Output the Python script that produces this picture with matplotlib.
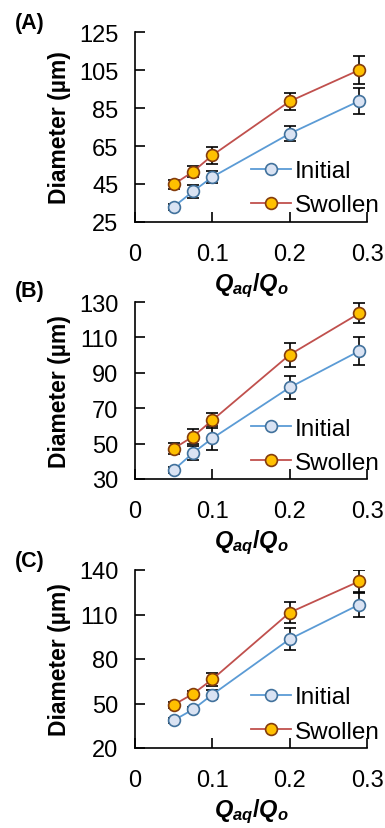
import numpy as np
import matplotlib.pyplot as plt

plt.rcParams['font.family'] = ['Liberation Sans', 'DejaVu Sans']
plt.rcParams['mathtext.fontset'] = 'custom'
plt.rcParams['mathtext.it'] = 'Liberation Sans:bold:italic'
plt.rcParams['mathtext.rm'] = 'Liberation Sans:bold'
plt.rcParams['mathtext.bf'] = 'Liberation Sans:bold'

ratio = [0.05, 0.075, 0.1, 0.2, 0.29]

init_a = [33.0, 41.1, 48.7, 71.5, 88.7]
init_a_err = [1.5, 3.3, 3.0, 3.8, 7.0]
swol_a = [44.8, 51.5, 60.1, 88.5, 105.0]
swol_a_err = [2.2, 3.0, 4.4, 4.3, 7.2]

init_b = [35.1, 44.7, 53.0, 81.7, 102.3]
init_b_err = [1.5, 4.2, 6.8, 6.6, 7.7]
swol_b = [47.2, 54.0, 63.2, 100.2, 123.6]
swol_b_err = [3.0, 4.4, 4.3, 6.7, 5.7]

init_c = [38.6, 46.0, 56.0, 93.4, 116.7]
init_c_err = [1.5, 1.5, 3.0, 7.4, 8.2]
swol_c = [49.1, 56.5, 66.3, 111.3, 132.4]
swol_c_err = [2.0, 2.0, 4.5, 7.3, 7.6]

panels = [
    ("(A)", init_a, init_a_err, swol_a, swol_a_err, [25, 45, 65, 85, 105, 125]),
    ("(B)", init_b, init_b_err, swol_b, swol_b_err, [30, 50, 70, 90, 110, 130]),
    ("(C)", init_c, init_c_err, swol_c, swol_c_err, [20, 50, 80, 110, 140]),
]

W, H = 385, 829
fig = plt.figure(figsize=(W / 100, H / 100), dpi=100)

# axes boxes in pixels: (top, bottom), and y of the panel tag
boxes = [(33, 223, 23), (303, 480, 291), (571, 749, 562)]
left, right = 135, 367

for (tag, ini, ini_e, sw, sw_e, yt), (top, bot, ty) in zip(panels, boxes):
    ax = fig.add_axes([left / W, 1 - bot / H, (right - left) / W, (bot - top) / H])
    ax.errorbar(ratio, ini, yerr=ini_e, color='#5b9bd5', lw=1.3, marker='o', ms=8.5,
                mfc='#dae3f3', mec='#41719c', mew=1.2, ecolor='black',
                elinewidth=1.2, capsize=4.5, capthick=1.2, label='Initial', zorder=3)
    ax.errorbar(ratio, sw, yerr=sw_e, color='#c0504d', lw=1.3, marker='o', ms=8.5,
                mfc='#ffc000', mec='#843c0c', mew=1.2, ecolor='black',
                elinewidth=1.2, capsize=4.5, capthick=1.2, label='Swollen', zorder=3)
    ax.set_xlim(0, 0.3)
    ax.set_ylim(yt[0], yt[-1])
    ax.set_yticks(yt)
    ax.set_xticks([0, 0.1, 0.2, 0.3])
    ax.set_xticklabels(['0', '0.1', '0.2', '0.3'])
    ax.tick_params(direction='in', length=7, width=1.2, labelsize=17)
    ax.tick_params(axis='y', pad=12)
    ax.tick_params(axis='x', pad=15)
    for s in ['top', 'right']:
        ax.spines[s].set_visible(False)
    for s in ['left', 'bottom']:
        ax.spines[s].set_linewidth(1.2)
    ax.set_ylabel('Diameter (µm)', fontsize=16.5, fontweight='bold', labelpad=6)
    ax.set_xlabel('$Q_{aq}/Q_o$', fontsize=17, labelpad=4)
    handles, labels = ax.get_legend_handles_labels()
    handles = [h[0] for h in handles]
    ax.legend(handles, labels, loc='lower left', bbox_to_anchor=(0.5, 0.03),
              frameon=False, fontsize=17.5, handlelength=1.65, handletextpad=0.15,
              labelspacing=0.5, borderaxespad=0, borderpad=0)
    fig.text(15 / W, 1 - ty / H, tag, fontsize=15.5, fontweight='bold',
             va='center', ha='left')

fig.savefig('out.png', dpi=100)
